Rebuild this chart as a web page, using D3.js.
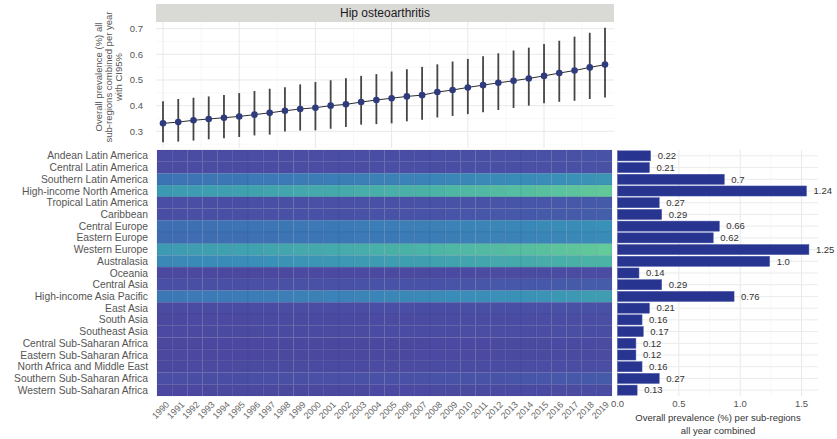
<!DOCTYPE html>
<html><head><meta charset="utf-8">
<script src="https://cdn.jsdelivr.net/npm/d3@7"></script>
<style>body{margin:0;background:#fff}svg{display:block;font-family:"Liberation Sans",Arial,sans-serif}</style>
</head><body><svg id="c" width="837" height="439"></svg>
<script>
const years = d3.range(1990, 2020);
const globalPrev = [0.331,0.336,0.343,0.348,0.353,0.358,0.365,0.372,0.380,0.387,0.392,0.400,0.405,0.414,0.422,0.429,0.436,0.441,0.453,0.461,0.471,0.480,0.489,0.497,0.506,0.516,0.527,0.537,0.549,0.560];
const globalLow = [0.257,0.260,0.264,0.269,0.273,0.278,0.284,0.287,0.299,0.303,0.304,0.310,0.317,0.326,0.328,0.331,0.339,0.345,0.354,0.360,0.367,0.374,0.383,0.391,0.400,0.409,0.415,0.419,0.426,0.432];
const globalHigh = [0.417,0.426,0.431,0.436,0.442,0.449,0.457,0.466,0.472,0.483,0.492,0.499,0.507,0.516,0.523,0.533,0.542,0.551,0.561,0.572,0.582,0.593,0.604,0.615,0.626,0.640,0.653,0.669,0.684,0.704];
const topTicks = [0.3,0.4,0.5,0.6,0.7];

const regions = ["Andean Latin America","Central Latin America","Southern Latin America","High-income North America","Tropical Latin America","Caribbean","Central Europe","Eastern Europe","Western Europe","Australasia","Oceania","Central Asia","High-income Asia Pacific","East Asia","South Asia","Southeast Asia","Central Sub-Saharan Africa","Eastern Sub-Saharan Africa","North Africa and Middle East","Southern Sub-Saharan Africa","Western Sub-Saharan Africa"];

// per-region prevalence per year (1990..2019)
const heat = [
 [0.17,0.17,0.17,0.18,0.18,0.18,0.19,0.19,0.19,0.20,0.20,0.20,0.21,0.21,0.22,0.22,0.22,0.22,0.23,0.24,0.24,0.24,0.25,0.25,0.26,0.26,0.27,0.27,0.28,0.29],
 [0.16,0.16,0.17,0.17,0.17,0.17,0.18,0.18,0.18,0.19,0.19,0.20,0.20,0.20,0.21,0.21,0.21,0.21,0.22,0.22,0.23,0.23,0.24,0.24,0.25,0.25,0.26,0.26,0.27,0.27],
 [0.54,0.55,0.55,0.57,0.57,0.58,0.60,0.60,0.62,0.63,0.64,0.65,0.66,0.67,0.69,0.69,0.71,0.71,0.74,0.75,0.76,0.78,0.79,0.81,0.82,0.83,0.85,0.87,0.89,0.91],
 [0.95,0.97,0.98,1.00,1.02,1.03,1.05,1.07,1.09,1.12,1.13,1.15,1.17,1.19,1.22,1.23,1.25,1.26,1.30,1.33,1.35,1.38,1.40,1.43,1.45,1.48,1.51,1.54,1.57,1.61],
 [0.21,0.21,0.21,0.22,0.22,0.22,0.23,0.23,0.24,0.24,0.25,0.25,0.25,0.26,0.26,0.27,0.27,0.28,0.28,0.29,0.29,0.30,0.31,0.31,0.32,0.32,0.33,0.33,0.34,0.35],
 [0.22,0.23,0.23,0.23,0.24,0.24,0.25,0.25,0.26,0.26,0.26,0.27,0.27,0.28,0.28,0.29,0.29,0.30,0.30,0.31,0.32,0.32,0.33,0.33,0.34,0.35,0.35,0.36,0.37,0.38],
 [0.51,0.51,0.52,0.53,0.54,0.55,0.56,0.57,0.58,0.59,0.60,0.61,0.62,0.63,0.65,0.65,0.67,0.67,0.69,0.71,0.72,0.73,0.75,0.76,0.77,0.79,0.81,0.82,0.84,0.86],
 [0.48,0.48,0.49,0.50,0.51,0.51,0.53,0.53,0.55,0.56,0.56,0.58,0.58,0.60,0.61,0.61,0.63,0.63,0.65,0.66,0.68,0.69,0.70,0.71,0.73,0.74,0.76,0.77,0.79,0.81],
 [0.96,0.98,0.99,1.01,1.03,1.04,1.06,1.08,1.10,1.13,1.14,1.16,1.18,1.20,1.23,1.24,1.26,1.28,1.31,1.34,1.36,1.39,1.41,1.44,1.46,1.49,1.53,1.55,1.59,1.63],
 [0.77,0.78,0.79,0.81,0.82,0.83,0.85,0.86,0.88,0.90,0.91,0.93,0.94,0.96,0.98,0.99,1.01,1.02,1.05,1.07,1.09,1.11,1.13,1.15,1.17,1.19,1.22,1.24,1.27,1.30],
 [0.11,0.11,0.11,0.11,0.11,0.12,0.12,0.12,0.12,0.13,0.13,0.13,0.13,0.13,0.14,0.14,0.14,0.14,0.15,0.15,0.15,0.16,0.16,0.16,0.16,0.17,0.17,0.17,0.18,0.18],
 [0.23,0.23,0.23,0.24,0.24,0.24,0.25,0.25,0.26,0.26,0.27,0.27,0.27,0.28,0.28,0.29,0.29,0.30,0.30,0.31,0.31,0.32,0.33,0.33,0.34,0.34,0.35,0.36,0.37,0.37],
 [0.59,0.59,0.60,0.62,0.62,0.63,0.65,0.65,0.67,0.68,0.69,0.71,0.71,0.73,0.74,0.75,0.77,0.78,0.80,0.81,0.83,0.84,0.86,0.87,0.89,0.90,0.93,0.94,0.97,0.99],
 [0.16,0.16,0.17,0.17,0.17,0.18,0.18,0.18,0.19,0.19,0.19,0.20,0.20,0.20,0.21,0.21,0.21,0.22,0.22,0.22,0.23,0.23,0.24,0.24,0.25,0.25,0.26,0.26,0.27,0.27],
 [0.12,0.12,0.13,0.13,0.13,0.13,0.14,0.14,0.14,0.14,0.15,0.15,0.15,0.15,0.16,0.16,0.16,0.16,0.17,0.17,0.17,0.18,0.18,0.18,0.19,0.19,0.20,0.20,0.20,0.21],
 [0.13,0.13,0.13,0.14,0.14,0.14,0.14,0.15,0.15,0.15,0.15,0.16,0.16,0.16,0.17,0.17,0.17,0.17,0.18,0.18,0.19,0.19,0.19,0.20,0.20,0.20,0.21,0.21,0.22,0.22],
 [0.09,0.09,0.09,0.10,0.10,0.10,0.10,0.10,0.11,0.11,0.11,0.11,0.11,0.12,0.12,0.12,0.12,0.12,0.13,0.13,0.13,0.13,0.14,0.14,0.14,0.14,0.15,0.15,0.15,0.16],
 [0.09,0.09,0.10,0.10,0.10,0.10,0.10,0.11,0.11,0.11,0.11,0.11,0.12,0.12,0.12,0.12,0.12,0.13,0.13,0.13,0.13,0.13,0.14,0.14,0.14,0.14,0.15,0.15,0.15,0.16],
 [0.12,0.12,0.13,0.13,0.13,0.14,0.14,0.14,0.14,0.14,0.15,0.15,0.15,0.15,0.16,0.16,0.16,0.16,0.17,0.17,0.17,0.17,0.18,0.18,0.19,0.19,0.19,0.20,0.20,0.21],
 [0.21,0.21,0.22,0.22,0.22,0.22,0.23,0.23,0.24,0.24,0.25,0.25,0.25,0.26,0.26,0.27,0.27,0.27,0.28,0.29,0.29,0.30,0.30,0.31,0.32,0.32,0.33,0.33,0.34,0.35],
 [0.10,0.10,0.10,0.11,0.11,0.11,0.11,0.11,0.11,0.12,0.12,0.12,0.12,0.12,0.13,0.13,0.13,0.13,0.14,0.14,0.14,0.14,0.15,0.15,0.15,0.15,0.16,0.16,0.17,0.17]
];

// bar lengths as read against the bar axis, and the labels printed beside them
const barValues = [0.27,0.26,0.87,1.54,0.34,0.36,0.83,0.78,1.56,1.24,0.175,0.36,0.95,0.26,0.20,0.21,0.15,0.15,0.20,0.34,0.16];
const barLabels = ["0.22","0.21","0.7","1.24","0.27","0.29","0.66","0.62","1.25","1.0","0.14","0.29","0.76","0.21","0.16","0.17","0.12","0.12","0.16","0.27","0.13"];
const barTicks = [0, 0.5, 1.0, 1.5];

const svg = d3.select("#c");
const txt = "#555";

// ---------- top panel ----------
const tL = 156, tR = 614, tT = 22, tB = 148;
const xT = d3.scaleLinear().domain([1990, 2019]).range([163, 605]);
const yT = d3.scaleLinear().domain([0.235, 0.726]).range([tB, tT]);
const topG = svg.append("g");
topG.selectAll(".hmin").data([0.25,0.35,0.45,0.55,0.65]).join("line")
  .attr("x1", tL).attr("x2", tR).attr("y1", d => yT(d)).attr("y2", d => yT(d))
  .attr("stroke", "#f3f3f3").attr("stroke-width", 0.6);
topG.selectAll(".vmin").data([1992.5,1997.5,2002.5,2007.5,2012.5,2017.5]).join("line")
  .attr("y1", tT).attr("y2", tB).attr("x1", d => xT(d)).attr("x2", d => xT(d))
  .attr("stroke", "#f3f3f3").attr("stroke-width", 0.6);
topG.selectAll(".hmaj").data(topTicks).join("line")
  .attr("x1", tL).attr("x2", tR).attr("y1", d => yT(d)).attr("y2", d => yT(d))
  .attr("stroke", "#e8e8e8").attr("stroke-width", 1);
topG.selectAll(".vmaj").data([1990,1995,2000,2005,2010,2015]).join("line")
  .attr("y1", tT).attr("y2", tB).attr("x1", d => xT(d)).attr("x2", d => xT(d))
  .attr("stroke", "#e8e8e8").attr("stroke-width", 1);
topG.append("rect").attr("x", tL).attr("y", 4).attr("width", tR - tL).attr("height", 18).attr("fill", "#d9d9d6");
topG.append("text").attr("x", (tL + tR) / 2).attr("y", 13).attr("dy", "0.36em").attr("text-anchor", "middle")
  .attr("font-size", 12).attr("fill", "#1a1a1a").text("Hip osteoarthritis");
topG.selectAll(".yt").data(topTicks).join("text")
  .attr("x", 143).attr("y", d => yT(d)).attr("dy", "0.35em").attr("text-anchor", "end")
  .attr("font-size", 9.5).attr("fill", txt).text(d => d.toFixed(1));
const titleLines = ["Overall prevalence (%) all", "sub-regions combined per year", "with CI95%"];
titleLines.forEach((t, i) => {
  topG.append("text").attr("transform", `translate(${99 + i * 9.6},77) rotate(-90)`)
    .attr("text-anchor", "middle").attr("dy", "0.35em").attr("font-size", 9.5).attr("fill", txt).text(t);
});
topG.selectAll(".eb").data(years).join("line")
  .attr("x1", d => xT(d)).attr("x2", d => xT(d))
  .attr("y1", (d, i) => yT(globalLow[i])).attr("y2", (d, i) => yT(globalHigh[i]))
  .attr("stroke", "#454545").attr("stroke-width", 1.8);
topG.append("path").datum(years)
  .attr("d", d3.line().x(d => xT(d)).y((d, i) => yT(globalPrev[i])))
  .attr("fill", "none").attr("stroke", "#2b2b2b").attr("stroke-width", 1);
topG.selectAll(".pt").data(years).join("circle")
  .attr("cx", d => xT(d)).attr("cy", (d, i) => yT(globalPrev[i])).attr("r", 3.3)
  .attr("fill", "#2e3b7c");

// ---------- heatmap ----------
const hL = 157, hR = 612, hT = 150, hB = 396;
const xH = d3.scaleBand().domain(years).range([hL, hR]);
const yH = d3.scaleBand().domain(regions).range([hT, hB]);
const color = d3.scaleLinear()
  .domain([0.08, 0.3, 0.55, 0.85, 1.0, 1.3, 1.65])
  .range(["#4c469f", "#4853a7", "#3c74b5", "#398fb8", "#3e9eb1", "#4cb4a6", "#64cb98"])
  .interpolate(d3.interpolateRgb).clamp(true);
const heatG = svg.append("g");
regions.forEach((r, ri) => {
  heatG.append("g").selectAll("rect").data(years).join("rect")
    .attr("x", d => xH(d)).attr("y", yH(r)).attr("width", xH.bandwidth()).attr("height", yH.bandwidth())
    .attr("fill", (d, i) => color(heat[ri][i]))
    .attr("stroke", "rgba(40,40,90,0.12)").attr("stroke-width", 0.6);
});
svg.selectAll(".rl").data(regions).join("text")
  .attr("x", 148).attr("y", d => yH(d) + yH.bandwidth() / 2).attr("dy", "0.35em")
  .attr("text-anchor", "end").attr("font-size", 10.3).attr("fill", txt).text(d => d);
svg.selectAll(".yl").data(years).join("text")
  .attr("transform", d => `translate(${xH(d) + xH.bandwidth() / 2 + 3},403) rotate(-45)`)
  .attr("text-anchor", "end").attr("dy", "0.35em").attr("font-size", 9).attr("fill", "#666").text(d => d);

// ---------- bars ----------
const bL = 617.5, bR = 818;
const xB = d3.scaleLinear().domain([0, 1.634]).range([bL, bR]);
const yB = d3.scaleBand().domain(regions).range([hT, hB]).paddingInner(0.14).paddingOuter(0.07);
const barG = svg.append("g");
barG.selectAll(".bmin").data([0.25, 0.75, 1.25]).join("line")
  .attr("x1", d => xB(d)).attr("x2", d => xB(d)).attr("y1", hT).attr("y2", hB)
  .attr("stroke", "#f3f3f3").attr("stroke-width", 0.6);
barG.selectAll(".bmaj").data(barTicks).join("line")
  .attr("x1", d => xB(d)).attr("x2", d => xB(d)).attr("y1", hT).attr("y2", hB)
  .attr("stroke", "#e8e8e8").attr("stroke-width", 1);
barG.selectAll(".bh").data(regions).join("line")
  .attr("x1", bL).attr("x2", bR).attr("y1", d => yH(d) + yH.bandwidth() / 2).attr("y2", d => yH(d) + yH.bandwidth() / 2)
  .attr("stroke", "#ebebeb").attr("stroke-width", 1);
barG.selectAll(".bar").data(regions).join("rect")
  .attr("x", xB(0)).attr("y", d => yB(d)).attr("height", yB.bandwidth())
  .attr("width", (d, i) => xB(barValues[i]) - xB(0))
  .attr("fill", "#273590").attr("stroke", "#4a57a8").attr("stroke-width", 0.5);
barG.selectAll(".bl").data(regions).join("text")
  .attr("x", (d, i) => xB(barValues[i]) + 7).attr("y", d => yB(d) + yB.bandwidth() / 2).attr("dy", "0.35em")
  .attr("font-size", 9.5).attr("fill", "#333").text((d, i) => barLabels[i]);
barG.selectAll(".bt").data(barTicks).join("text")
  .attr("x", d => xB(d)).attr("y", 404).attr("dy", "0.35em").attr("text-anchor", "middle")
  .attr("font-size", 9.5).attr("fill", txt).text(d => d.toFixed(1));
barG.append("text").attr("x", 718).attr("y", 418).attr("dy", "0.35em").attr("text-anchor", "middle")
  .attr("font-size", 9.5).attr("fill", "#333").text("Overall prevalence (%) per sub-regions");
barG.append("text").attr("x", 718).attr("y", 431).attr("dy", "0.35em").attr("text-anchor", "middle")
  .attr("font-size", 9.5).attr("fill", "#333").text("all year combined");
</script></body></html>
